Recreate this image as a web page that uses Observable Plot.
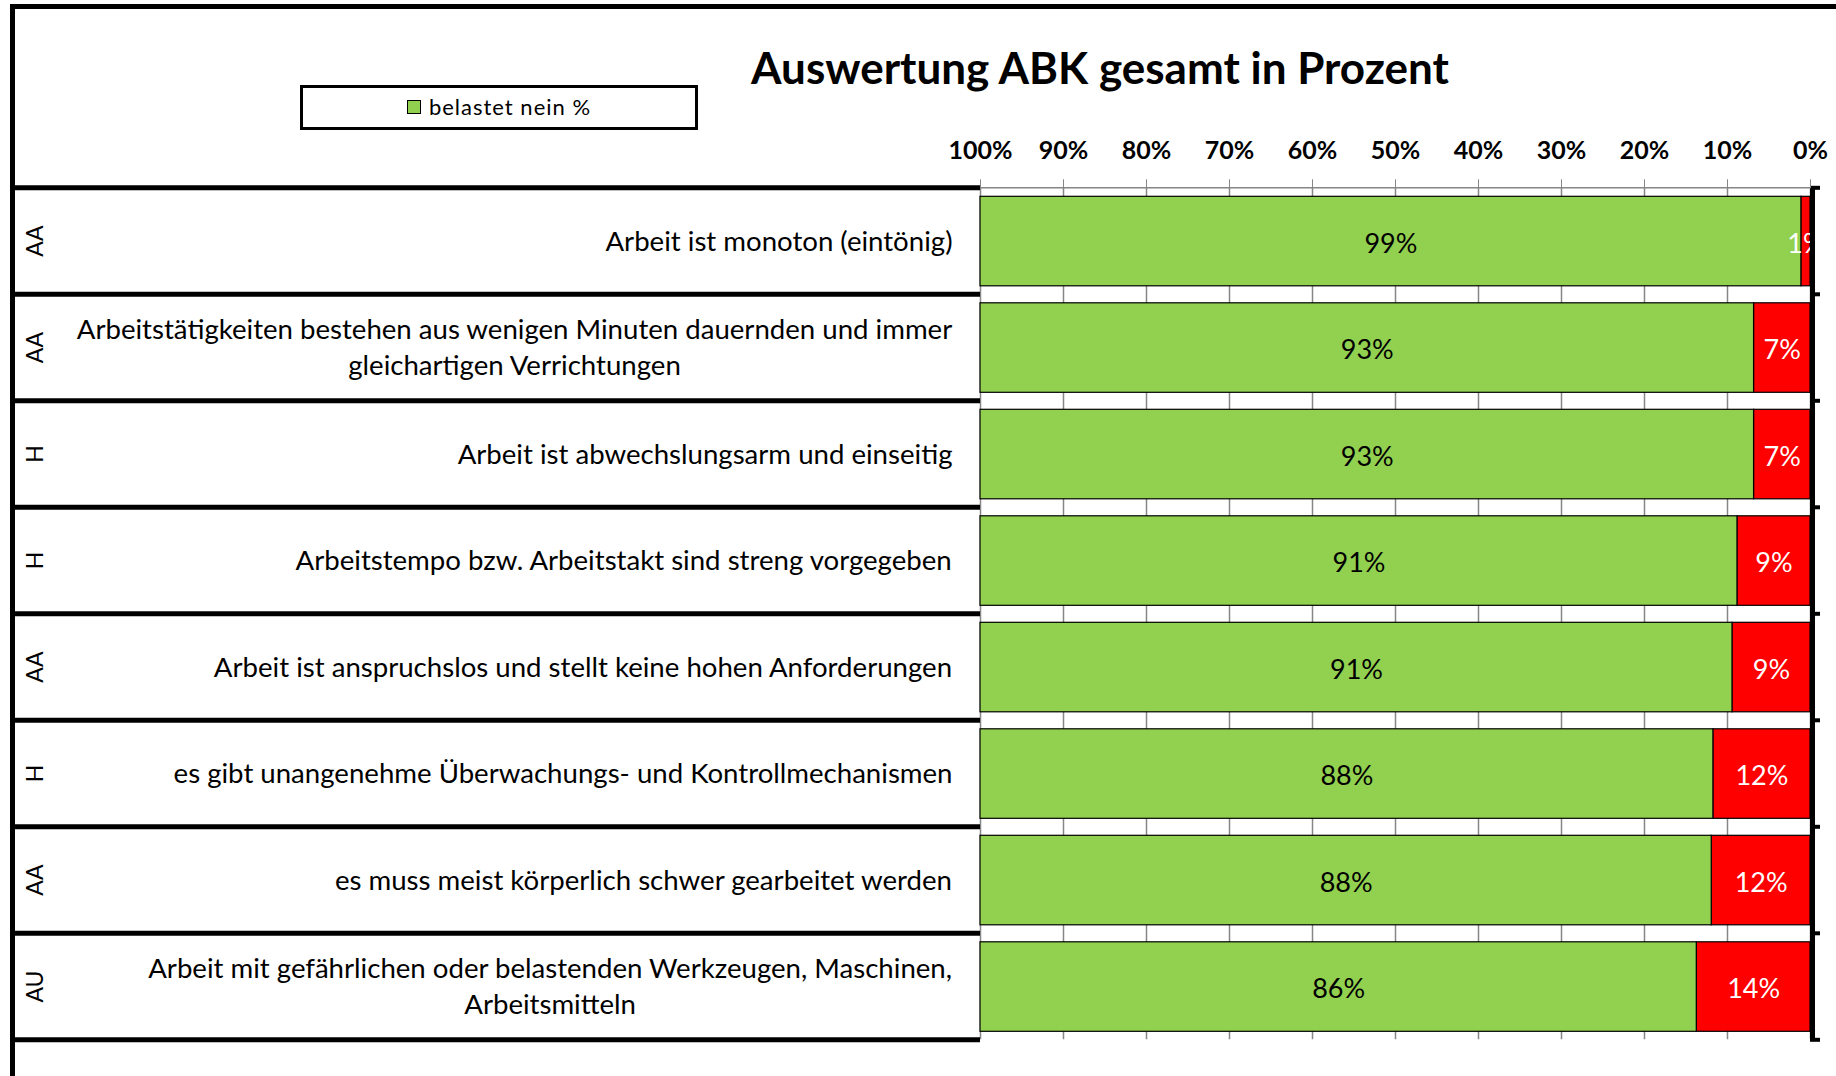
<!DOCTYPE html>
<html><head><meta charset="utf-8">
<script src="https://cdn.jsdelivr.net/npm/d3@7"></script>
<script src="https://cdn.jsdelivr.net/npm/@observablehq/plot@0.6"></script>
<style>
html,body{margin:0;padding:0;background:#fff;}
body{width:1836px;height:1076px;position:relative;overflow:hidden;font-family:Lato, sans-serif;}
#frame{position:absolute;left:10px;top:4px;right:0;bottom:0;border-top:5px solid #000;border-left:5px solid #000;pointer-events:none;}
#title{position:absolute;left:600px;width:1000px;top:45px;text-align:center;font:bold 44px/1 Lato, sans-serif;color:#000;white-space:nowrap;}
#legend{position:absolute;left:300px;top:85px;width:398px;height:45px;box-sizing:border-box;border:3px solid #000;display:flex;align-items:center;justify-content:center;font:22px/1 Lato, sans-serif;letter-spacing:1px;color:#000;padding-bottom:1px;}
#legend .sw{display:inline-block;width:12px;height:12px;background:#92D050;border:1px solid #000;margin-right:8px;}
#chart{position:absolute;left:0;top:135px;}
</style></head><body>
<div id="title">Auswertung ABK gesamt in Prozent</div>
<div id="legend"></div>
<div id="chart"></div>
<div id="frame"></div>
<script>
const categories = [
  "Arbeit ist monoton (eintönig)",
  "Arbeitstätigkeiten bestehen aus wenigen Minuten dauernden und immer\ngleichartigen Verrichtungen",
  "Arbeit ist abwechslungsarm und einseitig",
  "Arbeitstempo bzw. Arbeitstakt sind streng vorgegeben",
  "Arbeit ist anspruchslos und stellt keine hohen Anforderungen",
  "es gibt unangenehme Überwachungs- und Kontrollmechanismen",
  "es muss meist körperlich schwer gearbeitet werden",
  "Arbeit mit gefährlichen oder belastenden Werkzeugen, Maschinen,\nArbeitsmitteln"
];
const groups = ["AA", "AA", "H", "H", "AA", "H", "AA", "AU"];
const seriesNames = ["belastet ja %", "belastet nein %"];
const belastetJa = [1.1, 6.8, 6.8, 8.8, 9.4, 11.7, 11.9, 13.7];
const belastetNein = [98.9, 93.2, 93.2, 91.2, 90.6, 88.3, 88.1, 86.3];
const xTicks = [0, 10, 20, 30, 40, 50, 60, 70, 80, 90, 100];

// legend (only the "nein" series is listed, as in the original)
document.getElementById("legend").innerHTML =
  `<span class="sw"></span><span>${seriesNames[1]}</span>`;

const W = 1836, H = 941, ML = 980, MR = 26, MT = 52.3, MB = 36.7;
const PW = W - ML - MR;
const FS = 27.6;
const VFS = 27;

const rows = categories.map((c, i) => ({row: i, label: c, group: groups[i]}));
const data = [];
categories.forEach((c, i) => {
  data.push({row: i, cat: c, key: seriesNames[0], value: belastetJa[i]});
  data.push({row: i, cat: c, key: seriesNames[1], value: belastetNein[i]});
});
const boundaries = d3.range(categories.length + 1);
const pct = v => Math.round(v) + "%";

const ctx = document.createElement("canvas").getContext("2d");
ctx.font = `${FS}px Lato`;
const labelMarks = rows.map(r => {
  const w = d3.max(r.label.split("\n"), l => ctx.measureText(l).width);
  return Plot.text([r], {
    frameAnchor: "left", y: d => d.row + 0.5, text: "label",
    textAnchor: "middle", dx: -(28 + w / 2), dy: -2, lineHeight: 1.32,
    fontSize: FS, fill: "#000"
  });
});

const plot = Plot.plot({
  width: W, height: H,
  marginLeft: ML, marginRight: MR, marginTop: MT, marginBottom: MB,
  x: {domain: [0, 100], reverse: true, axis: null},
  y: {domain: [0, categories.length], reverse: true, axis: null},
  color: {domain: seriesNames, range: ["#FF0000", "#92D050"]},
  style: {fontFamily: "Lato, sans-serif", fontSize: FS + "px", background: "transparent", color: "#000", overflow: "visible"},
  marks: [
    Plot.ruleX(xTicks, {x: d => d, stroke: "#868686", strokeWidth: 1.5}),
    Plot.ruleY([0], {y: d => d, stroke: "#868686", strokeWidth: 1.5}),
    Plot.rectX(data, {x: "value", y1: "row", y2: d => d.row + 1, fill: "key",
      stroke: "#000", strokeWidth: 1.2, insetTop: 9, insetBottom: 8}),
    Plot.text(data, Plot.stackX({x: "value", y: d => d.row + 0.5, dy: 3,
      text: d => d.key === seriesNames[1] ? pct(d.value) : null, fill: "#000", fontSize: VFS})),
    Plot.text(data, Plot.stackX({x: "value", y: d => d.row + 0.5, dy: 3,
      text: d => d.key === seriesNames[0] ? pct(d.value) : null, fill: "#fff", fontSize: VFS})),
    // row separators on the left panel
    Plot.ruleY(boundaries, {y: d => d, stroke: "#000", strokeWidth: 5, insetLeft: -(ML - 10), insetRight: PW}),
    // small ticks right of the 0% axis
    Plot.ruleY(boundaries, {y: d => d, stroke: "#000", strokeWidth: 4, insetLeft: PW, insetRight: -10}),
    // 0% axis line
    Plot.ruleX([0], {x: d => d, stroke: "#000", strokeWidth: 5, dx: 2}),
    ...labelMarks,
    Plot.text(rows, {frameAnchor: "left", dx: 35 - ML, y: d => d.row + 0.5, text: "group",
      rotate: -90, textAnchor: "middle", lineAnchor: "middle", fontSize: 23, fill: "#000"}),
    Plot.axisX({anchor: "top", ticks: xTicks, tickSize: 9, tickPadding: 20,
      tickFormat: d => d + "%", fontSize: 25, fontWeight: "bold",
      stroke: "#868686", fill: "#000", label: null})
  ]
});
document.getElementById("chart").appendChild(plot);
</script></body></html>
